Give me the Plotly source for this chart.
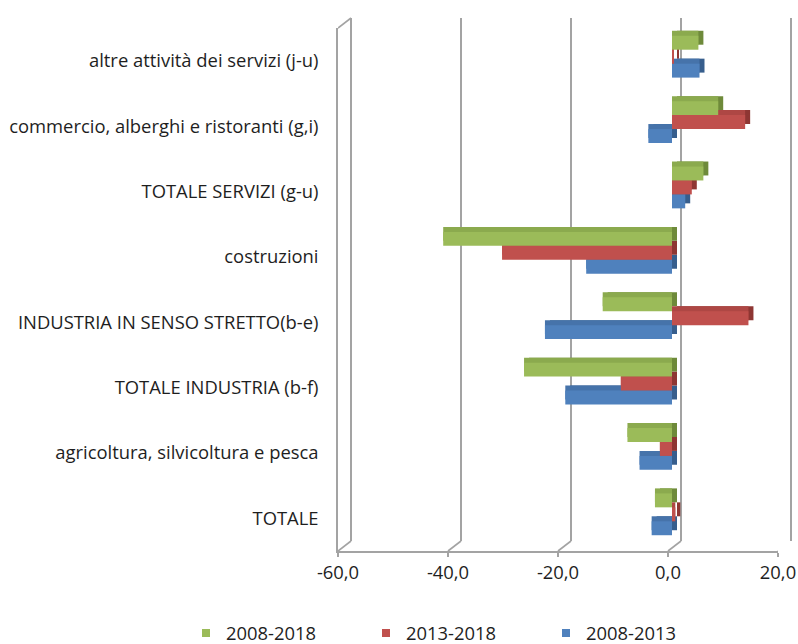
import plotly.graph_objects as go

# Sectors, bottom to top as they appear on the vertical axis
categories = [
    "TOTALE",
    "agricoltura, silvicoltura e pesca",
    "TOTALE INDUSTRIA (b-f)",
    "INDUSTRIA IN SENSO STRETTO(b-e)",
    "costruzioni",
    "TOTALE SERVIZI (g-u)",
    "commercio, alberghi e ristoranti (g,i)",
    "altre attività dei servizi (j-u)",
]

# Percentage changes by period
var_2008_2013 = [-3.7, -5.9, -19.4, -23.1, -15.6, 2.4, -4.3, 5.0]
var_2013_2018 = [0.6, -2.2, -9.3, 13.9, -30.9, 3.6, 13.3, 0.3]
var_2008_2018 = [-3.1, -8.1, -26.9, -12.6, -41.6, 5.7, 8.4, 4.8]

periods = ["2008-2013", "2013-2018", "2008-2018"]
x_ticks = [-60, -40, -20, 0, 20]
x_tick_labels = ["-60,0", "-40,0", "-20,0", "0,0", "20,0"]

series = [var_2008_2013, var_2013_2018, var_2008_2018]
face_colors = ["#4F81BD", "#C0504D", "#9BBB59"]
top_colors = ["#4673AA", "#AE4744", "#8BAA4E"]
end_colors = ["#375E8D", "#8E3633", "#6E8A3A"]

W, H = 798, 644
FONT = "Open Sans"
FONT_SIZE = 18.4
TEXT = "#1E1E1E"
GRID = "#A3A3A3"


def xdom(left, right):
    return [left / W, right / W]


def ydom(top, bottom):
    return [1 - bottom / H, 1 - top / H]


# Front plane of the box (labels, floor edge) and depth offsets in pixels
FL, FR, FT, FB = 338, 778, 28, 551
BACK_DX, BACK_DY = 13, 10
BAR_DX, BAR_DY = 4, 4
DEPTH = 5
px_per_unit = (FR - FL) / 80.0
pad = 0.3 * px_per_unit
ZERO_PX = FL + 60 * px_per_unit

fig = go.Figure()

# keeps the back-wall subplot alive even though it holds no marks
fig.add_trace(go.Scatter(x=[], y=[], xaxis="x", yaxis="y",
                         showlegend=False, hoverinfo="skip"))


def add_bars(colors, xa, ya, hover=True):
    for vals, col, name in zip(series, colors, periods):
        fig.add_trace(go.Bar(
            y=categories, x=vals, orientation="h", name=name,
            marker=dict(color=col, line=dict(width=0)),
            xaxis=xa, yaxis=ya, showlegend=False,
            hoverinfo=None if hover else "skip",
        ))


# 3D bars: end faces, top faces, then the front faces
add_bars(end_colors, "x2", "y2", hover=False)
add_bars(top_colors, "x3", "y3", hover=False)
add_bars(face_colors, "x4", "y4")

# legend entries with small square keys
for name, col in zip(periods[::-1], face_colors[::-1]):
    fig.add_trace(go.Scatter(
        x=[None], y=[None], mode="markers", name=name,
        marker=dict(symbol="square", size=8, color=col),
        xaxis="x4", yaxis="y4", showlegend=True,
    ))

hidden_cat_y = dict(type="category", categoryorder="array", categoryarray=categories,
                    range=[-0.5, 7.5], visible=False, fixedrange=True)
hidden_x = dict(range=[-60, 20], visible=False, fixedrange=True)

shapes = []
# floor diagonals from each front tick back to the wall
for v in x_ticks:
    shapes.append(dict(type="line", xref="x5", yref="y5 domain",
                       xsizemode="pixel", xanchor=v, x0=0, x1=BACK_DX,
                       ysizemode="pixel", yanchor=0, y0=0, y1=BACK_DY,
                       line=dict(color=GRID, width=1.6)))
# top edge of the left side wall
shapes.append(dict(type="line", xref="x5", yref="y5 domain",
                   xsizemode="pixel", xanchor=x_ticks[0], x0=0, x1=BACK_DX,
                   ysizemode="pixel", yanchor=1, y0=0, y1=BACK_DY,
                   line=dict(color=GRID, width=1.6)))

text_font = dict(family=FONT, size=FONT_SIZE, color=TEXT)

fig.update_layout(
    width=W, height=H,
    margin=dict(l=0, r=0, t=0, b=0, autoexpand=False),
    paper_bgcolor="white", plot_bgcolor="rgba(0,0,0,0)",
    font=text_font,
    barmode="group", bargap=0.36, bargroupgap=0,
    showlegend=True,
    legend=dict(orientation="h", x=186 / W, xanchor="left",
                y=1 - 633 / H, yanchor="middle",
                entrywidth=135, entrywidthmode="pixels",
                font=text_font,
                bgcolor="rgba(0,0,0,0)", itemclick=False, itemdoubleclick=False),
    # back wall with the vertical gridlines
    xaxis=dict(domain=xdom(FL + BACK_DX - pad, FR + BACK_DX + pad), range=[-60.3, 20.3],
               anchor="y", tickmode="array", tickvals=x_ticks, showticklabels=False,
               ticks="", showgrid=True, gridcolor=GRID, gridwidth=1.6,
               zeroline=False, showline=False, fixedrange=True),
    yaxis=dict(domain=ydom(FT - BACK_DY, FB - BACK_DY), range=[0, 1], anchor="x",
               showgrid=False, zeroline=False, showticklabels=False, ticks="",
               showline=False, fixedrange=True),
    # bar end faces (shifted back in depth)
    xaxis2=dict(domain=xdom(FL + BAR_DX + DEPTH, FR + BAR_DX + DEPTH), anchor="y2", **hidden_x),
    yaxis2=dict(domain=ydom(FT - BAR_DY - DEPTH, FB - BAR_DY - DEPTH), anchor="x2", **hidden_cat_y),
    # bar top faces
    xaxis3=dict(domain=xdom(FL + BAR_DX, FR + BAR_DX), anchor="y3", **hidden_x),
    yaxis3=dict(domain=ydom(FT - BAR_DY - DEPTH, FB - BAR_DY - DEPTH), anchor="x3", **hidden_cat_y),
    # bar front faces
    xaxis4=dict(domain=xdom(FL + BAR_DX, FR + BAR_DX), anchor="y4", **hidden_x),
    yaxis4=dict(domain=ydom(FT - BAR_DY, FB - BAR_DY), anchor="x4", **hidden_cat_y),
    # front plane: value axis along the floor and the sector labels
    xaxis5=dict(domain=xdom(FL, FR), range=[-60, 20], anchor="y5",
                tickmode="array", tickvals=x_ticks, ticktext=x_tick_labels,
                ticks="outside", ticklen=4, tickcolor=GRID, tickwidth=1.6,
                showline=True, linecolor=GRID, linewidth=1.6,
                showgrid=False, zeroline=False, fixedrange=True,
                tickfont=text_font),
    yaxis5=dict(domain=ydom(FT, FB), range=[-0.5, 7.5], anchor="x5",
                tickmode="array", tickvals=list(range(len(categories))), ticktext=categories,
                ticks="", showline=True, linecolor=GRID, linewidth=1.6,
                showgrid=False, zeroline=False, ticklabelstandoff=14, fixedrange=True,
                tickfont=text_font),
    # vertical axis line crossing at zero, with category dividers
    xaxis6=dict(domain=xdom(ZERO_PX, ZERO_PX + 1), anchor="y6",
                visible=False, fixedrange=True),
    yaxis6=dict(domain=ydom(FT, FB), range=[-0.5, 7.5], anchor="x6",
                tickmode="array", tickvals=[i - 0.5 for i in range(len(categories) + 1)],
                ticks="outside", ticklen=5, tickcolor=GRID, tickwidth=1.6,
                showticklabels=False, showline=True, linecolor=GRID, linewidth=1.6,
                showgrid=False, zeroline=False, fixedrange=True),
    shapes=shapes,
)

fig.write_html("out.html")
